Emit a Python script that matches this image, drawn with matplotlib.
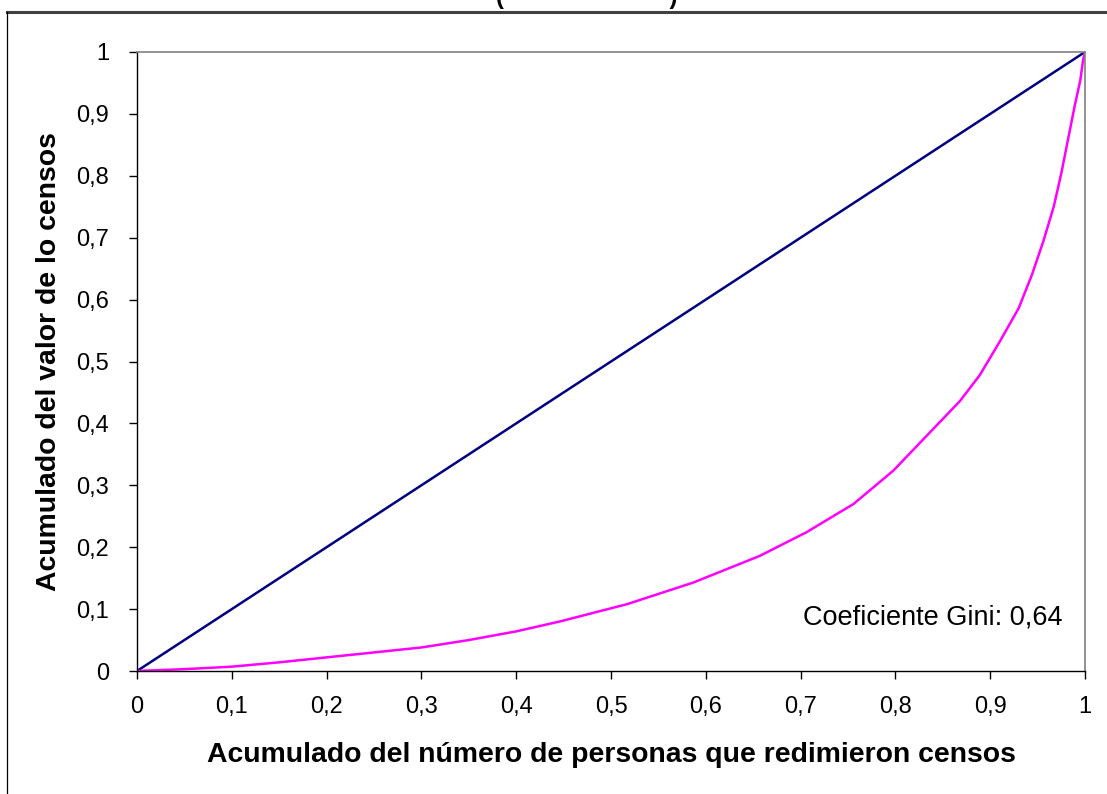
import matplotlib
matplotlib.use('Agg')
import matplotlib.pyplot as plt
from matplotlib.lines import Line2D

plt.rcParams['font.family'] = ['Liberation Sans', 'DejaVu Sans']

# Lorenz curve
share_people = [0, 0.05, 0.1, 0.15, 0.2, 0.25, 0.3, 0.35, 0.4, 0.446, 0.517, 0.587, 0.657,
                0.706, 0.756, 0.798, 0.833, 0.868, 0.889, 0.910, 0.930, 0.944, 0.956, 0.967,
                0.975, 0.982, 0.989, 0.995, 0.998, 1.0]
share_value = [0, 0.003, 0.007, 0.014, 0.022, 0.030, 0.038, 0.050, 0.064, 0.080, 0.108, 0.143,
               0.186, 0.224, 0.270, 0.324, 0.380, 0.436, 0.478, 0.532, 0.586, 0.640, 0.694,
               0.750, 0.804, 0.858, 0.912, 0.954, 0.987, 1.0]
equality_x = [0, 1]
equality_y = [0, 1]
ticks = [0, 0.1, 0.2, 0.3, 0.4, 0.5, 0.6, 0.7, 0.8, 0.9, 1]
tick_labels = ['0', '0,1', '0,2', '0,3', '0,4', '0,5', '0,6', '0,7', '0,8', '0,9', '1']
gini_text = 'Coeficiente Gini: 0,64'

fig = plt.figure(figsize=(11.07, 7.94), dpi=100)
ax = fig.add_axes([137/1107, 1 - 671/794, 948/1107, 619/794])

ax.plot(equality_x, equality_y, color='#000080', linewidth=1.8)
ax.plot(share_people, share_value, color='#FF00FF', linewidth=1.8)

ax.set_xlim(0, 1); ax.set_ylim(0, 1)
ax.set_xticks(ticks); ax.set_xticklabels(tick_labels, fontsize=17)
ax.set_yticks(ticks); ax.set_yticklabels(tick_labels, fontsize=17)
ax.tick_params(axis='x', direction='out', length=6, width=1, pad=12)
ax.tick_params(axis='y', direction='out', length=6, width=1, pad=14)

for s in ['top', 'right']:
    ax.spines[s].set_color('#808080'); ax.spines[s].set_linewidth(1.2)
for s in ['left', 'bottom']:
    ax.spines[s].set_color('black'); ax.spines[s].set_linewidth(1)

ax.set_xlabel('Acumulado del número de personas que redimieron censos',
              fontsize=20.4, fontweight='bold', labelpad=17)
ax.set_ylabel('Acumulado del valor de lo censos', fontsize=20.4, fontweight='bold', labelpad=10)

ax.text(0.976, 0.087, gini_text, ha='right', va='center', fontsize=19.5)

# outer chart border (runs off the right and bottom edges)
fig.add_artist(Line2D([7/1107, 1.0], [1 - 12/794, 1 - 12/794], color='#404040', linewidth=2.2))
fig.add_artist(Line2D([7/1107, 7/1107], [0, 1 - 12/794], color='black', linewidth=0.9))

# title, mostly cut off above the figure
fig.text(587/1107, 1 - 4/794, '(                         )', ha='center', va='baseline',
         fontsize=17, fontweight='bold')

fig.savefig('out.png', dpi=100)
